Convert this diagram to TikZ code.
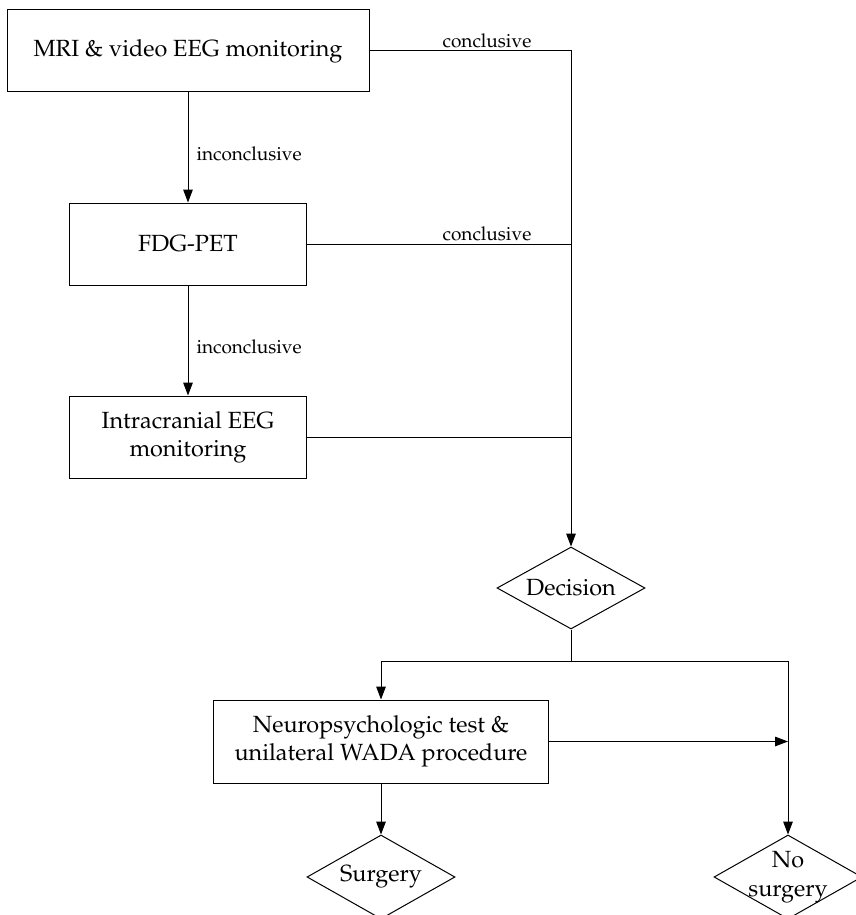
\documentclass[tikz,border=0pt]{standalone}
\usepackage[T1]{fontenc}
\usepackage{mathpazo}
\usepackage{tikz}
\usetikzlibrary{shapes.geometric,positioning,calc,arrows.meta}

\begin{document}
\begin{tikzpicture}[x=0.5pt, y=-0.5pt, line width=0.5pt,
    stepbox/.style={draw, rectangle, inner sep=2pt, align=center, font=\fontsize{11.7}{14}\selectfont},
    choice/.style={draw, diamond, aspect=1.8, inner sep=0pt, minimum width=74pt, minimum height=42pt, align=center, font=\fontsize{11.7}{14.5}\selectfont},
    lbl/.style={inner sep=1pt, font=\fontsize{9.5}{11}\selectfont},
    flow/.style={-{Triangle[length=6.5pt, width=4.8pt]}}]
  \useasboundingbox (0,0) rectangle (856,915);

  % Diagnostic steps (left column)
  \node[stepbox, minimum width=181pt, minimum height=41pt] (mri) at (188, 51) {MRI \& video EEG monitoring};
  \node[stepbox, minimum width=118.5pt, minimum height=41pt] (fdg) at (188, 244) {FDG-PET};
  \node[stepbox, minimum width=118.5pt, minimum height=41pt] (icr) at (188, 437) {Intracranial EEG\\monitoring};

  % Decision and outcomes
  \node[choice, minimum height=41pt] (dec) at (571, 588) {Decision};
  \node[stepbox, minimum width=167.5pt, minimum height=41.5pt] (neuro) at (381, 741.5) {Neuropsychologic test \&\\unilateral WADA procedure};
  \node[choice] (surg) at (381, 877) {Surgery};
  \node[choice, inner sep=-7pt] (nosurg) at (788, 877) {No\\surgery};

  % Junction points
  \coordinate (trunk) at (571, 51);
  \coordinate (fdgJ) at (571, 244);
  \coordinate (icrJ) at (571, 437);
  \coordinate (split) at (571, 661);
  \coordinate (splitL) at (381, 661);
  \coordinate (splitR) at (788, 661);
  \coordinate (neuroR) at (788, 741.5);

  % inconclusive -> next test
  \draw[flow] (mri.south) -- (fdg.north);
  \node[lbl, anchor=west] (inc1) at (194, 154) {inconclusive};
  \draw[flow] (fdg.south) -- (icr.north);
  \node[lbl, anchor=west] (inc2) at (194, 347) {inconclusive};

  % conclusive -> decision
  \draw[flow] (mri.east) -- (trunk) -- (dec.north);
  \node[lbl, anchor=south] (con1) at (487, 50) {conclusive};
  \draw (fdg.east) -- (fdgJ);
  \node[lbl, anchor=south] (con2) at (487, 243) {conclusive};
  \draw (icr.east) -- (icrJ);

  % Decision branches
  \draw (dec.south) -- (split);
  \draw (splitL) -- (splitR);
  \draw[flow] (splitL) -- (neuro.north);
  \draw[flow] (splitR) -- (nosurg.north);
  \draw[flow] (neuro.east) -- (neuroR);
  \draw[flow] (neuro.south) -- (surg.north);
\end{tikzpicture}
\end{document}
